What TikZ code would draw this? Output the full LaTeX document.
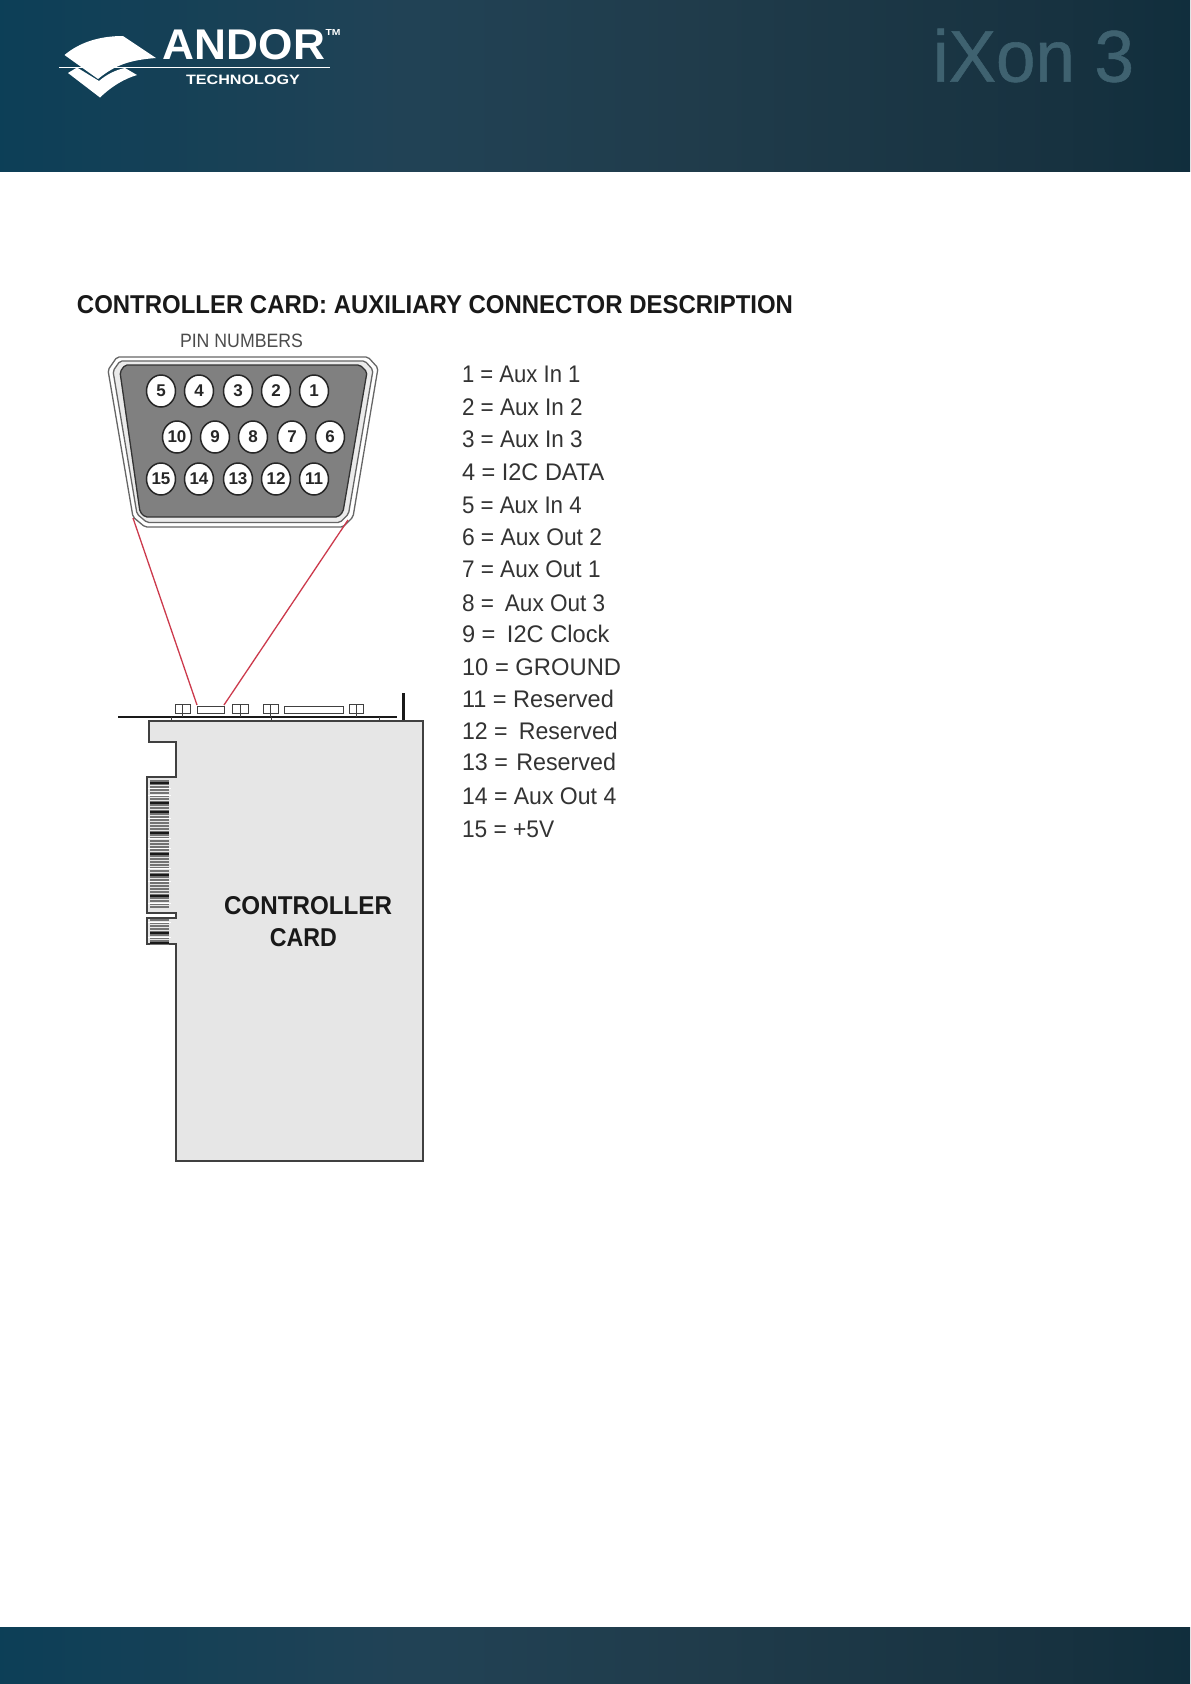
\documentclass[tikz,border=0pt]{standalone}
\usepackage{fontspec}
\usepackage{graphicx}
\setmainfont{Liberation Sans}
\newfontface\ixonface[FakeBold=0.8]{Liberation Sans}
\usetikzlibrary{shapes.geometric}
\pgfdeclarehorizontalshading{andorbar}{100bp}{rgb(0bp)=(0.005,0.235,0.345); rgb(16bp)=(0.005,0.24,0.345); rgb(42bp)=(0.13,0.26,0.335); rgb(53.7bp)=(0.125,0.235,0.295); rgb(69.7bp)=(0.09,0.195,0.25); rgb(89bp)=(0,0.145,0.205); rgb(100bp)=(0,0.12,0.16)}
\newcommand{\fb}[3]{\resizebox{#1pt}{#2pt}{#3}}
\newcommand{\fs}[1]{\fontsize{#1}{#1}\selectfont}
\definecolor{iconblue}{HTML}{3F6270}
\definecolor{textgrey}{HTML}{333333}
\definecolor{cardfill}{HTML}{E6E6E6}
\definecolor{linkred}{HTML}{CC3A4C}
\tikzset{
  plain/.style={inner sep=0pt,outer sep=0pt},
  pin/.style={ellipse,draw=black!85,line width=1.5pt,fill=white,minimum width=29pt,minimum height=32pt,inner sep=0pt,text=black!85,font=\fs{17}\bfseries},
  entry/.style={plain,anchor=base west,text=textgrey},
  shellouter/.style={draw=black!60,line width=1.3pt,fill=white,rounded corners=2pt},
  shellmid/.style={draw=black!60,line width=1.3pt,fill=black!8,rounded corners=2pt},
  shellinner/.style={draw=black!80,line width=1.3pt,fill=black!50,rounded corners=2pt},
  cardline/.style={draw=black!75,line width=1.5pt,line join=miter},
  part/.style={draw=black!75,line width=1pt,fill=white},
  redlink/.style={draw=linkred,line width=1.3pt},
}
\begin{document}
\begin{tikzpicture}[x=1pt,y=-1pt]
\useasboundingbox (0,0) rectangle (1191,1684);
\fill[white] (0,0) rectangle (1191,1684);
% bands
\shade[shading=andorbar] (0,0) rectangle (1190,171);
\shade[shading=andorbar] (0,1627) rectangle (1190,1684);
% logo
\fill[white] (64.5,55) .. controls (80,42) and (100,36) .. (123,36) -- (156,58)
  .. controls (130,60) and (115,65) .. (98,79) -- cycle;
\fill[white] (68,73) -- (100,97.5) .. controls (112,86) and (124,79) .. (137,75)
  -- (125,68) .. controls (115,70) and (106,75) .. (99,81) -- (77,67.5) -- cycle;
\draw[white,line width=1.3pt] (59,67.3) -- (330,67.3);
\node[plain,text=white] (andor) at (244,45) {\fb{162}{30}{\bfseries ANDOR}};
\node[plain,text=white] (tm) at (333,32) {\fb{15}{6}{\bfseries TM}};
\node[plain,text=white] (technology) at (243,79.5) {\fb{114}{9.5}{\bfseries TECHNOLOGY}};
\node[plain,text=iconblue] (ixon) at (1033.5,55.5) {\fb{201}{53}{\ixonface iXon 3}};
% heading
\node[plain,text=black!90] (title) at (435,305) {\fb{716}{18}{\bfseries CONTROLLER CARD: AUXILIARY CONNECTOR DESCRIPTION}};
\node[plain,text=black!70] (pinlabel) at (241.5,340.5) {\fb{123}{13.5}{PIN NUMBERS}};
% connector shell
\path[shellouter] (117,357) -- (368,357) -- (378,368) -- (353,517) -- (343,527) -- (145,527) -- (133,517) -- (108,370) -- cycle;
\path[shellmid] (120,361) -- (365,361) -- (373,370) -- (348.5,514) -- (340,522.5) -- (147,522.5) -- (137,514) -- (113,371) -- cycle;
\path[shellinner] (125,365) -- (360,365) -- (367,372) -- (343,512) -- (338,517) -- (145,517) -- (140,512) -- (120,372) -- cycle;
\foreach \n/\x/\y in {5/161/391,4/199/391,3/238/391,2/276/391,1/314/391,
  10/177/437,9/215/437,8/253/437,7/292/437,6/330/437,
  15/161/479,14/199/479,13/238/479,12/276/479,11/314/479}
  \node[pin] (pin\n) at (\x,\y) {\n};
% card
\path[cardline,fill=cardfill] (149,721) -- (423,721) -- (423,1161) -- (176,1161) -- (176,944) -- (147,944) -- (147,918) -- (176,918) -- (176,913) -- (147,913) -- (147,777) -- (176,777) -- (176,742) -- (149,742) -- cycle;
\foreach \y in {781,784,...,907} \draw[black!55,line width=1.6pt] (150,\y) -- (169,\y);
\foreach \y in {920,923,...,944} \draw[black!55,line width=1.6pt] (150,\y) -- (169,\y);
\foreach \y in {783,803,812,833,854,875,896,933,943} \draw[black!90,line width=2pt] (150,\y) -- (169,\y);
\foreach \y in {788,795,818,838,848,868,881,903,922,937} \draw[white,line width=1pt] (148,\y) -- (171,\y);
\node[plain,text=black!90] (cardone) at (308,905.5) {\fb{168}{18}{\bfseries CONTROLLER}};
\node[plain,text=black!90] (cardtwo) at (303.5,938) {\fb{67}{18}{\bfseries CARD}};
% bracket
\draw[black!90,line width=2.6pt] (118,717) -- (397,717);
\draw[black!90,line width=3pt] (403,693) -- (403,720);
\foreach \a/\b in {175/190,232/248,263/278,349/363} {
  \draw[part] (\a,704) rectangle (\b,713);
  \draw[black!75,line width=1pt] ({(\a+\b)/2},704) -- ({(\a+\b)/2},717);
}
\foreach \a/\b in {197/224,284/343} \draw[part] (\a,706) rectangle (\b,713.5);
\foreach \x in {171,271,379} \draw[black!75,line width=1pt] (\x,717) -- (\x,721);
% links
\coordinate (shellL) at (133,518);
\coordinate (shellR) at (348,520);
\coordinate (portL) at (197,705);
\coordinate (portR) at (224,705);
\draw[redlink] (shellL) -- (portL);
\draw[redlink] (shellR) -- (portR);
% pin list
\foreach \n/\y/\s/\t in {
  a/382/.92/{1 = Aux In 1},
  b/415/.937/{2 = Aux In 2},
  c/447/.937/{3 = Aux In 3},
  d/480/.98/{4 = I2C DATA},
  e/513/.93/{5 = Aux In 4},
  f/545/.95/{6 = Aux Out 2},
  g/577/.94/{7 = Aux Out 1},
  h/611/.94/{8 =\hspace{5pt} Aux Out 3},
  i/642/.985/{9 =\hspace{5pt} I2C Clock},
  j/675/.99/{10 = GROUND},
  k/707/.98/{11 = Reserved},
  l/739/.963/{12 =\hspace{5pt} Reserved},
  m/770/.97/{13 =\hspace{2pt} Reserved},
  o/804/.96/{14 = Aux Out 4},
  p/837/.947/{15 = +5V}}
  \node[entry,font=\fs{24}] (list\n) at (462,\y) {\scalebox{\s}[1]{\t}};
\end{tikzpicture}
\end{document}
